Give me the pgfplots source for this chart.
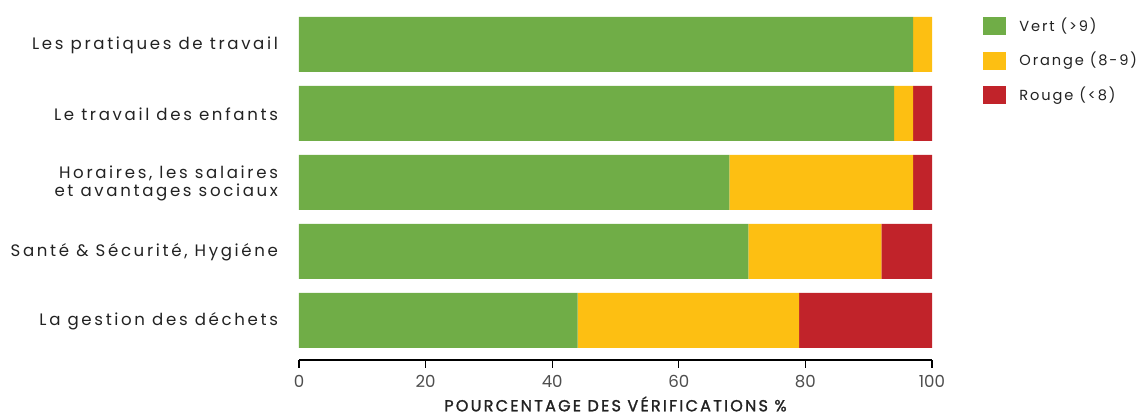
\documentclass[border=0pt]{standalone}
\usepackage{fontspec}
\setmainfont{Poppins}
\newfontfamily\spaced{Poppins}[LetterSpace=16]
\newfontfamily\legfont{Poppins}[LetterSpace=13]
\newfontfamily\spacedmed{Poppins}[LetterSpace=14, FakeBold=1.5]
\usepackage{pgfplots}
\pgfplotsset{compat=1.18}
\definecolor{cgreen}{HTML}{70AD47}
\definecolor{corange}{HTML}{FDBF12}
\definecolor{cred}{HTML}{C1232A}
\definecolor{ctext}{HTML}{222222}
\begin{document}
\begin{tikzpicture}
\useasboundingbox (-149.5pt,-27.5pt) rectangle (420pt,180pt);
\begin{axis}[
    at={(0,0)}, anchor=south west,
    width=316.5pt, height=171.5pt, scale only axis,
    xbar stacked, bar width=27.5pt,
    xmin=0, xmax=100, ymin=-0.5725, ymax=4.3986,
    axis x line*=bottom, axis y line*=left,
    y axis line style={draw=none},
    x axis line style={line width=0.6pt, black},
    tick align=outside,
    xtick={0,20,40,60,80,100},
    xticklabels={0,20,40,60,80,100},
    x tick style={line width=0.6pt, black},
    major tick length=4pt,
    ytick={0,1,2,3,4},
    y tick style={draw=none},
    yticklabels={
      La gestion des déchets,
      {Santé \& Sécurité, Hygiéne},
      {Horaires, les salaires\\et avantages sociaux},
      Le travail des enfants,
      Les pratiques de travail},
    yticklabel style={align=right, text=ctext, xshift=-3pt, yshift=-0.5pt,
      font=\spaced\fontsize{8.3}{9}\selectfont},
    xticklabel style={text=ctext!80, font=\fontsize{8.3}{9}\selectfont},
    xlabel={POURCENTAGE DES VÉRIFICATIONS \%},
    xlabel style={at={(axis description cs:0.5,0)}, anchor=center,
      yshift=-22pt, text=ctext,
      font=\spacedmed\fontsize{8}{9}\selectfont},
    legend image code/.code={\fill[#1] (0pt,-4.5pt) rectangle (11.5pt,4.5pt);},
    legend style={at={(rel axis cs:1.0806,1.0110)}, anchor=north west,
      draw=none, fill=none, inner sep=0pt, row sep=5pt,
      font=\legfont\fontsize{7.3}{8}\selectfont, text=ctext,
      cells={anchor=west},
      /tikz/every odd column/.append style={column sep=4.5pt}},
]
\addplot+[fill=cgreen, draw=none] coordinates {(44,0) (71,1) (68,2) (94,3) (97,4)};
\addplot+[fill=corange, draw=none] coordinates {(35,0) (21,1) (29,2) (3,3) (3,4)};
\addplot+[fill=cred, draw=none] coordinates {(21,0) (8,1) (3,2) (3,3) (0,4)};
\legend{Vert (>9), Orange (8-9), Rouge (<8)}
\end{axis}
\end{tikzpicture}
\end{document}
